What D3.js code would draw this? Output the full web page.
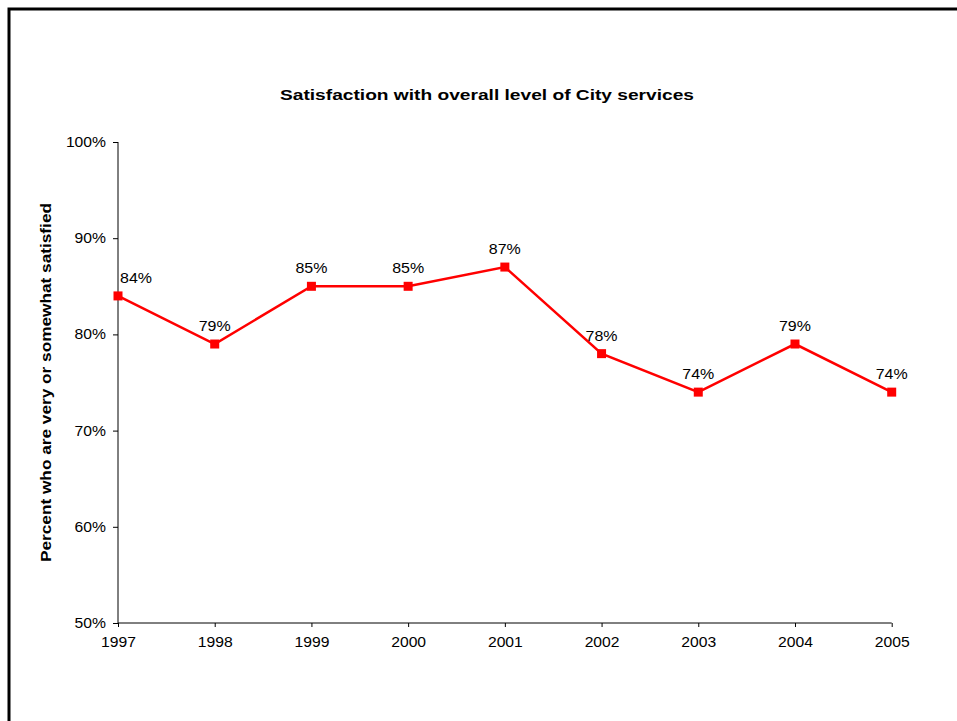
<!DOCTYPE html>
<html><head><meta charset="utf-8">
<script src="https://cdn.jsdelivr.net/npm/d3@7/dist/d3.min.js"></script>
<style>
html,body{margin:0;padding:0;background:#fff;}
svg{display:block;font-family:Arial,"Liberation Sans",sans-serif;}
</style></head>
<body>
<svg id="chart" width="957" height="721"></svg>
<script>
const years = ["1997","1998","1999","2000","2001","2002","2003","2004","2005"];
const satisfaction = [84, 79, 85, 85, 87, 78, 74, 79, 74];
const yTicks = [50, 60, 70, 80, 90, 100];
const title = "Satisfaction with overall level of City services";
const yTitle = "Percent who are very or somewhat satisfied";

const svg = d3.select("#chart");
// outer frame
svg.append("rect").attr("x", 9).attr("y", 9).attr("width", 1000).attr("height", 1000)
  .attr("fill", "none").attr("stroke", "#000").attr("stroke-width", 3);

const mLeft = 118, mRight = 891.7, mTop = 142, mBottom = 623;
const x = d3.scalePoint().domain(years).range([mLeft, mRight]);
const y = d3.scaleLinear().domain([50, 100]).range([mBottom, mTop]);

function widen(sel, f) {
  sel.each(function() {
    const w = this.getComputedTextLength();
    d3.select(this).attr("textLength", w * f).attr("lengthAdjust", "spacingAndGlyphs");
  });
}

const yAxis = svg.append("g").attr("transform", `translate(${mLeft},0)`)
  .call(d3.axisLeft(y).tickValues(yTicks).tickSize(5).tickPadding(7).tickFormat(d => d + "%"));
const xAxis = svg.append("g").attr("transform", `translate(0,${mBottom})`)
  .call(d3.axisBottom(x).tickSize(4).tickPadding(10));
[yAxis, xAxis].forEach(g => {
  g.select(".domain").attr("stroke", "#000").attr("stroke-width", 1);
  g.selectAll(".tick line").attr("stroke", "#000");
  g.selectAll("text").attr("font-size", 14).attr("fill", "#000")
    .attr("font-family", "Arial, 'Liberation Sans', sans-serif");
  widen(g.selectAll("text"), 1.12);
});
yAxis.selectAll(".domain").attr("d", `M0,${mBottom}V${mTop}`);
xAxis.selectAll(".domain").attr("d", `M${mLeft},0H${mRight}`);

const line = d3.line().x((d, i) => x(years[i])).y(d => y(d));
svg.append("path").datum(satisfaction).attr("d", line)
  .attr("fill", "none").attr("stroke", "#ff0000").attr("stroke-width", 2.5);

svg.selectAll("rect.marker").data(satisfaction).enter().append("rect")
  .attr("class", "marker")
  .attr("x", (d, i) => x(years[i]) - 4.5).attr("y", d => y(d) - 4.5)
  .attr("width", 9).attr("height", 9).attr("fill", "#ff0000");

const lbls = svg.selectAll("text.lbl").data(satisfaction).enter().append("text")
  .attr("class", "lbl")
  .attr("x", (d, i) => Math.max(x(years[i]), mLeft + 18))
  .attr("y", d => y(d) - 13)
  .attr("text-anchor", "middle").attr("font-size", 14).attr("fill", "#000")
  .text(d => d + "%");
widen(lbls, 1.14);

const t = svg.append("text").attr("x", 487).attr("y", 100).attr("text-anchor", "middle")
  .attr("font-size", 15.5).attr("font-weight", "bold").text(title);
t.attr("textLength", 414).attr("lengthAdjust", "spacingAndGlyphs");

const yt = svg.append("text").attr("transform", `translate(51,382.5) rotate(-90)`)
  .attr("text-anchor", "middle").attr("font-size", 14).attr("font-weight", "bold")
  .text(yTitle);
yt.attr("textLength", 359).attr("lengthAdjust", "spacingAndGlyphs");
</script>
</body></html>
